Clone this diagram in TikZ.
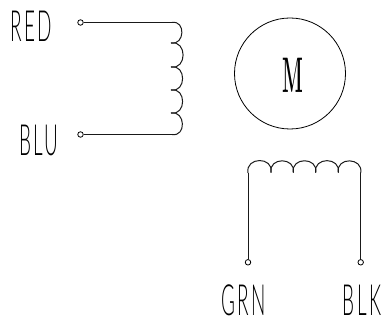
\documentclass[tikz,border=0pt]{standalone}
\usepackage{fontspec}
\usepackage{tikz}
\newfontfamily\wirefont[UprightFont=* Light, LetterSpace=12]{Lato}
\tikzset{
  wire/.style={line width=1pt, black!90},
  terminal/.style={circle, draw, line width=0.8pt, inner sep=0pt, minimum size=5.5pt},
  wirelabel/.style={font=\wirefont\fontsize{43}{43}\selectfont, xscale=0.44, inner sep=0pt},
  bump/.style={wire, out=10, in=-10, looseness=1.75}
}

\begin{document}
\begin{tikzpicture}[x=1pt, y=1pt]
  \useasboundingbox (0,0) rectangle (382,320);

  % Labels
	\node[wirelabel] (redlabel) at (31.5,294) {RED};
	\node[wirelabel] (blulabel) at (39,179.5) {BLU};
	\node[wirelabel] (grnlabel) at (243.5,19.5) {GRN};
	\node[wirelabel] (blklabel) at (362,20) {BLK};

  % Terminals
	\node[terminal] (red) at (80.5,297.5) {};
	\node[terminal] (blu) at (80.5,185.5) {};
	\node[terminal] (grn) at (248,57.7) {};
	\node[terminal] (blk) at (360.7,57.7) {};

  % Motor
	\node[circle, draw, line width=0.8pt, inner sep=0pt, minimum size=111pt] (motor) at (290,246.5) {};
	\node[font=\bfseries\fontsize{50}{50}\selectfont, xscale=0.39, inner sep=0pt] (mlabel) at (293.3,245) {M};

  % Coil tap points
	\coordinate (a0) at (172,297.5);
	\coordinate (a1) at (171,277);
	\coordinate (a2) at (171,253);
	\coordinate (a3) at (171,230);
	\coordinate (a4) at (171,207);
	\coordinate (a5) at (172,185.5);
	\coordinate (b0) at (248,147);
	\coordinate (b1) at (271,147.3);
	\coordinate (b2) at (293.3,147.3);
	\coordinate (b3) at (315.7,147.3);
	\coordinate (b4) at (338.3,147.3);
	\coordinate (b5) at (360.7,147);

  % Wires
	\draw[wire] (red) -- (a0);
	\draw[wire] (blu) -- (a5);
	\draw[wire] (grn) -- (b0);
	\draw[wire] (blk) -- (b5);

  % Coils
	\foreach \p/\q in {a0/a1, a1/a2, a2/a3, a3/a4, a4/a5}
		\draw[wire] (\p) to[bump] (\q);
	\foreach \p/\q in {b0/b1, b1/b2, b2/b3, b3/b4, b4/b5}
		\draw[wire] (\p) to[out=100, in=80, looseness=1.85] (\q);
\end{tikzpicture}
\end{document}
